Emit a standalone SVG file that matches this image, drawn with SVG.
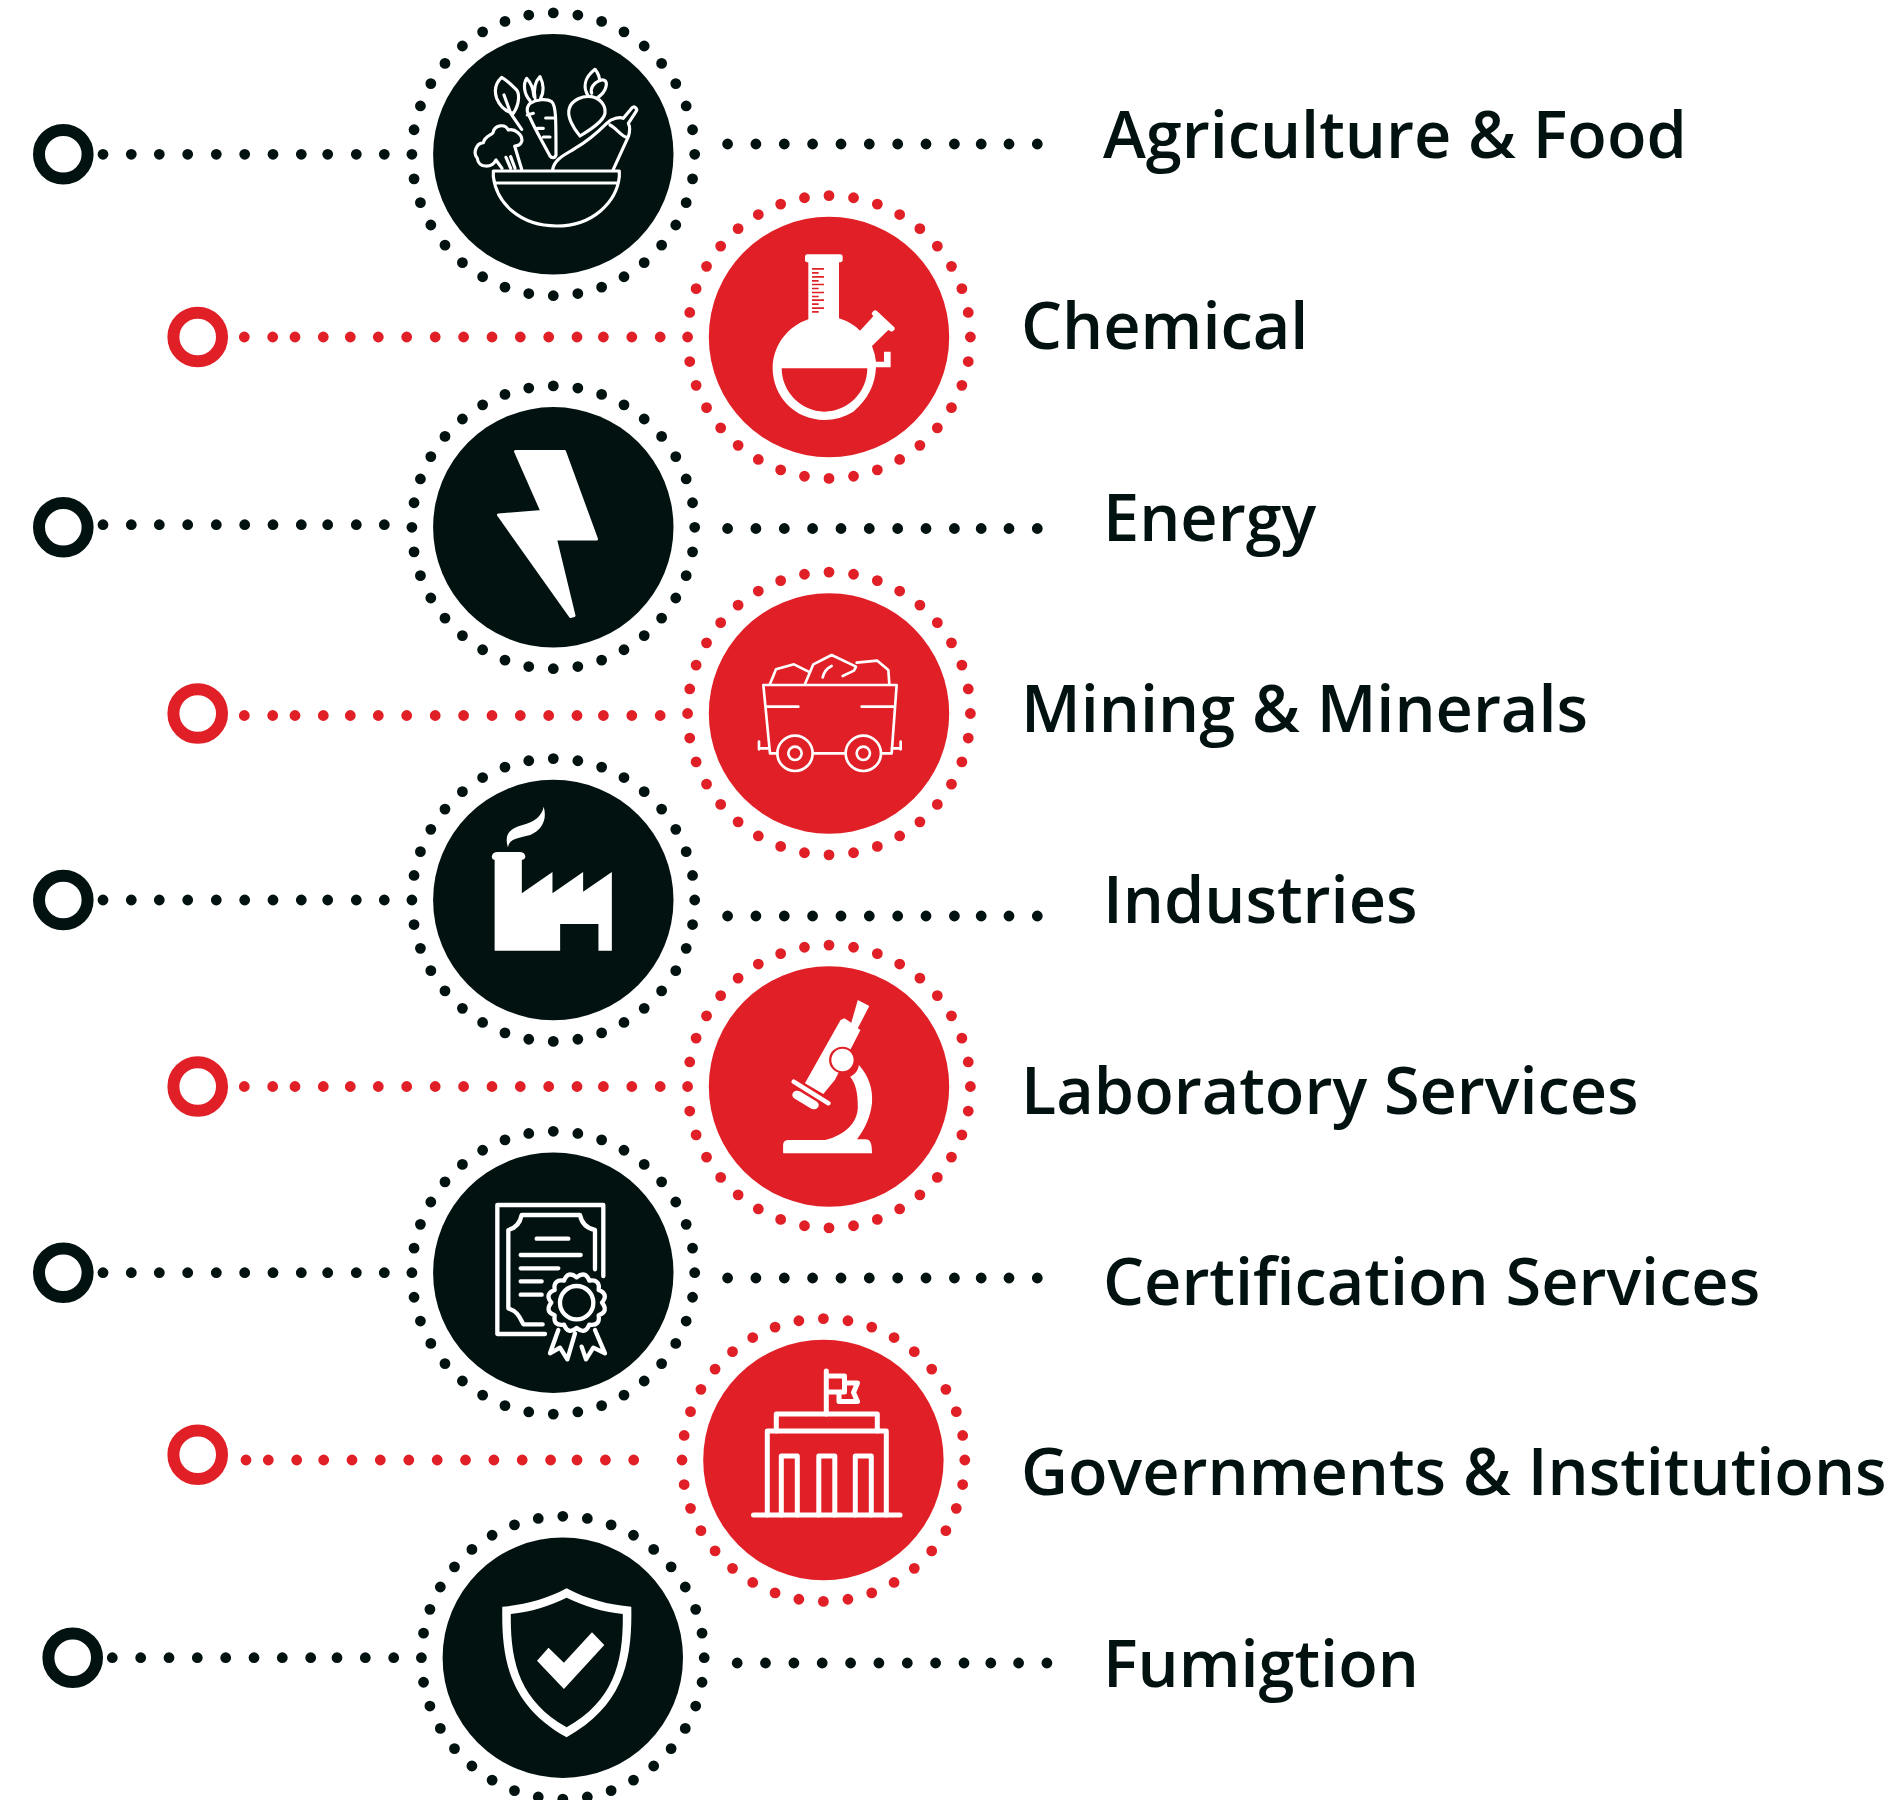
<svg xmlns="http://www.w3.org/2000/svg" width="1900" height="1800" viewBox="0 0 1900 1800">
<defs>
<style>
.k{fill:#021211}.r{fill:#e02026}
.rk,.rr{fill:none;stroke-linecap:round;stroke-width:10.8;stroke-dasharray:0 10}
.rk{stroke:#021211}.rr{stroke:#e02026}
.ek,.er{fill:none;stroke-width:12}
.ek{stroke:#021211}.er{stroke:#e02026}
.dk,.dr{fill:none;stroke-linecap:round;stroke-width:10.8}
.dk{stroke:#021211}.dr{stroke:#e02026}
.l{fill:none;stroke:#fff;stroke-linecap:round;stroke-linejoin:round}
.f{fill:#fff}
text{font-family:"Open Sans","Noto Sans",sans-serif;font-weight:600;font-size:64.8px;fill:#021211}
</style>
</defs>
<rect width="1900" height="1800" fill="#fff"/>
<g id="connectors">
<path class="dk" d="M103 154.3h0M131.3 154.3h0M159.3 154.3h0M187.7 154.3h0M216.3 154.3h0M244.7 154.3h0M273 154.3h0M301.3 154.3h0M327.7 154.3h0M356.3 154.3h0M384.3 154.3h0"/>
<path class="dk" d="M727.6 144h0M755.9 144h0M784.3 144h0M812.6 144h0M841 144h0M869.3 144h0M897.7 144h0M926 144h0M954.4 144h0M981.2 144h0M1009 144h0M1037.3 144h0"/>
<path class="dr" d="M244.3 337h0M272.7 337h0M295 337h0M323.3 337h0M350.3 337h0M378.3 337h0M406.7 337h0M435.2 337h0M463.6 337h0M492 337h0M520.3 337h0M548.7 337h0M577 337h0M603.4 337h0M631.8 337h0M660.2 337h0"/>
<path class="dk" d="M103 524.7h0M131.3 524.7h0M159.3 524.7h0M187.7 524.7h0M216.3 524.7h0M244.7 524.7h0M273 524.7h0M301.3 524.7h0M327.7 524.7h0M356.3 524.7h0M384.3 524.7h0"/>
<path class="dk" d="M727.6 528.5h0M755.9 528.5h0M784.3 528.5h0M812.6 528.5h0M841 528.5h0M869.3 528.5h0M897.7 528.5h0M926 528.5h0M954.4 528.5h0M981.2 528.5h0M1009 528.5h0M1037.3 528.5h0"/>
<path class="dr" d="M244.3 715.5h0M272.7 715.5h0M295 715.5h0M323.3 715.5h0M350.3 715.5h0M378.3 715.5h0M406.7 715.5h0M435.2 715.5h0M463.6 715.5h0M492 715.5h0M520.3 715.5h0M548.7 715.5h0M577 715.5h0M603.4 715.5h0M631.8 715.5h0M660.2 715.5h0"/>
<path class="dk" d="M103 900h0M131.3 900h0M159.3 900h0M187.7 900h0M216.3 900h0M244.7 900h0M273 900h0M301.3 900h0M327.7 900h0M356.3 900h0M384.3 900h0"/>
<path class="dk" d="M727.6 916h0M755.9 916h0M784.3 916h0M812.6 916h0M841 916h0M869.3 916h0M897.7 916h0M926 916h0M954.4 916h0M981.2 916h0M1009 916h0M1037.3 916h0"/>
<path class="dr" d="M244.3 1086.5h0M272.7 1086.5h0M295 1086.5h0M323.3 1086.5h0M350.3 1086.5h0M378.3 1086.5h0M406.7 1086.5h0M435.2 1086.5h0M463.6 1086.5h0M492 1086.5h0M520.3 1086.5h0M548.7 1086.5h0M577 1086.5h0M603.4 1086.5h0M631.8 1086.5h0M660.2 1086.5h0"/>
<path class="dk" d="M103 1272.7h0M131.3 1272.7h0M159.3 1272.7h0M187.7 1272.7h0M216.3 1272.7h0M244.7 1272.7h0M273 1272.7h0M301.3 1272.7h0M327.7 1272.7h0M356.3 1272.7h0M384.3 1272.7h0"/>
<path class="dk" d="M727.6 1278h0M755.9 1278h0M784.3 1278h0M812.6 1278h0M841 1278h0M869.3 1278h0M897.7 1278h0M926 1278h0M954.4 1278h0M981.2 1278h0M1009 1278h0M1037.3 1278h0"/>
<path class="dr" d="M246 1460h0M268.3 1460h0M296.7 1460h0M323.7 1460h0M352 1460h0M380.3 1460h0M408.8 1460h0M437.2 1460h0M465.5 1460h0M493.9 1460h0M522.2 1460h0M550.6 1460h0M577 1460h0M605.4 1460h0M633.7 1460h0"/>
<path class="dk" d="M112.3 1657.7h0M140.7 1657.7h0M169 1657.7h0M197.3 1657.7h0M225.7 1657.7h0M254 1657.7h0M282.3 1657.7h0M310.7 1657.7h0M337 1657.7h0M365.3 1657.7h0M393.7 1657.7h0"/>
<path class="dk" d="M737.2 1663h0M765.5 1663h0M793.9 1663h0M822.2 1663h0M850.6 1663h0M878.9 1663h0M907.3 1663h0M935.6 1663h0M964 1663h0M990.8 1663h0M1018.6 1663h0M1046.9 1663h0"/>
</g>

<g id="node-agriculture">
<circle class="ek" cx="63.3" cy="154.3" r="24.3"/>
<circle class="rk" cx="553.3" cy="154.3" r="141.4" pathLength="360"/>
<circle class="k" cx="553.3" cy="154.3" r="120.2"/>
<g class="l" stroke-width="9.5" transform="translate(480 60) scale(.3333)">
<path d="M66 325L48 300C35 325-5 325-8 295C-22 280-12 250 10 248C15 225 40 225 40 215C45 195 75 190 85 210C105 205 130 225 125 245C120 258 110 258 104 258L125 328M78 292L92 325M92 290L105 325"/>
<path d="M40 333H418V350C410 425 340 498 230 498C120 498 50 430 40 350ZM48 369H410"/>
<path d="M65 52C40 75 45 100 50 115C60 140 80 155 100 160C120 130 120 95 105 85C90 70 80 60 65 52ZM72 105L92 160L125 208"/>
<path d="M150 130C170 118 200 115 215 125C228 135 228 175 228 285C225 295 215 295 210 288C190 250 160 200 142 155C140 140 145 135 150 130ZM150 122C130 100 130 70 140 55C150 65 160 85 162 110M165 115C160 85 165 65 180 50C195 80 190 100 182 115M197 174H220M172 205H190M190 231H210M142 165L160 160"/>
<path d="M300 228C280 205 260 170 268 145C275 120 310 105 335 110C360 115 378 135 375 160C370 185 330 210 300 228ZM325 108C310 85 310 55 345 28C355 40 360 55 358 62C375 55 382 65 378 80C375 95 365 105 350 115M358 62C340 70 330 85 335 100"/>
<path d="M218 328C225 295 255 285 285 265C320 245 355 215 380 190C395 175 420 170 430 175L455 145C460 135 475 145 468 155L445 190C450 200 450 215 445 230L400 328M390 195C410 205 420 225 440 232"/>
</g>
<text x="1103" y="158">Agriculture &amp; Food</text>
</g>

<g id="node-chemical">
<circle class="er" cx="197.7" cy="337" r="24.3"/>
<circle class="rr" cx="829" cy="337" r="141.4" pathLength="360"/>
<circle class="r" cx="829" cy="337" r="120.2"/>
<g transform="translate(740 240) scale(.3333)">
<path class="f" d="M195 50Q195 43 202 43H301Q308 43 308 50V60Q308 67 297 67V235Q335 247 360 272L396 233L400 228L395 222Q400 208 410 212L463 262Q468 270 455 275L445 270L396 318Q405 340 408 365H432V335H452V382H408Q405 460 340 515Q300 540 253 540C165 540 98 470 98 385C98 315 145 258 205 238V67Q195 67 195 60Z"/>
<path class="r" d="M125 385H382C382 455 325 515 253 515C183 515 125 455 125 385Z"/>
<path class="r" d="M216 84h36v5h-36zM216 96h20v5h-20zM216 108h36v5h-36zM216 120h20v5h-20zM216 131h36v5h-36zM216 143h20v5h-20zM216 155h36v5h-36zM216 167h20v5h-20zM216 178h36v5h-36zM216 190h20v5h-20zM216 202h36v5h-36zM216 213h20v5h-20z"/>
</g>
<text x="1021" y="348.5">Chemical</text>
</g>

<g id="node-energy">
<circle class="ek" cx="63.3" cy="527.3" r="24.3"/>
<circle class="rk" cx="553.3" cy="527.3" r="141.4" pathLength="360"/>
<circle class="k" cx="553.3" cy="527.3" r="120.2"/>
<path class="f" stroke="#fff" stroke-width="3" stroke-linejoin="round" d="M515.5 451.5H564.5L596.5 539H555.5L574 615.5L570.5 616.5L498.5 515L542 511.5Z"/>
<text x="1103" y="540.5">Energy</text>
</g>

<g id="node-mining">
<circle class="er" cx="197.7" cy="713.5" r="24.3"/>
<circle class="rr" cx="829" cy="713.5" r="141.4" pathLength="360"/>
<circle class="r" cx="829" cy="713.5" r="120.2"/>
<g class="l" stroke-width="8" transform="translate(750 640) scale(.3333)">
<path d="M60 132L78 88L132 73L180 97M165 132L190 73L245 45L318 80L312 92L278 108M218 112C222 95 230 85 245 78M320 68L382 62L415 90L418 132"/>
<path d="M40 135H440L425 340H395M40 135L60 340H82M190 340H285M48 200H145M335 200H430M30 325H55M27 305V328M425 325H452M452 305V328"/>
<circle cx="135" cy="340" r="53"/><circle cx="340" cy="340" r="53"/><circle cx="135" cy="340" r="20"/><circle cx="340" cy="340" r="20"/>
</g>
<text x="1021" y="731.5">Mining &amp; Minerals</text>
</g>

<g id="node-industries">
<circle class="ek" cx="63.3" cy="900" r="24.3"/>
<circle class="rk" cx="553.3" cy="900" r="141.4" pathLength="360"/>
<circle class="k" cx="553.3" cy="900" r="120.2"/>
<g class="f" transform="translate(400 580) scale(.3831 .3333)">
<path d="M247 840Q238 838 240 828Q242 816 255 816H312Q325 816 327 828Q328 838 318 840V940L398 876V940L478 876V935L553 876V1112H518V1032H418V1112H247Z"/>
<path d="M282 802C270 760 290 745 320 735C350 725 370 710 375 680C385 720 370 750 340 765C310 775 285 775 282 802Z"/>
</g>
<text x="1103" y="922.5">Industries</text>
</g>

<g id="node-laboratory">
<circle class="er" cx="197.7" cy="1086.5" r="24.3"/>
<circle class="rr" cx="829" cy="1086.5" r="141.4" pathLength="360"/>
<circle class="r" cx="829" cy="1086.5" r="120.2"/>
<g transform="translate(400 1000) scale(.3831 .3333)">
<path class="f" d="M1195 0L1225 18L1195 85L1202 90L1135 240L1105 282L1057 250L1150 60L1160 55L1178 68Z"/>
<path d="M1028 245L1118 310" stroke="#fff" stroke-width="13" stroke-linecap="round" fill="none"/>
<path d="M1037 285L1080 315" stroke="#fff" stroke-width="26" stroke-linecap="round" fill="none"/>
<path class="f" d="M1198 195C1225 230 1235 270 1232 310C1228 350 1215 385 1193 418H1215C1228 418 1232 430 1232 460H1000V435C1000 425 1005 420 1015 420H1110C1160 405 1195 370 1195 320C1195 280 1190 250 1175 230C1185 225 1195 215 1198 195Z"/>
<ellipse class="f" cx="1155" cy="180" rx="32" ry="37" stroke="#e02026" stroke-width="6"/>
</g>
<text x="1021" y="1113.5">Laboratory Services</text>
</g>

<g id="node-certification">
<circle class="ek" cx="63.3" cy="1272.7" r="24.3"/>
<circle class="rk" cx="553.3" cy="1272.7" r="141.4" pathLength="360"/>
<circle class="k" cx="553.3" cy="1272.7" r="120.2"/>
<g class="l" stroke-width="13" transform="translate(480 1190) scale(.3333)">
<path d="M370 258V45H52V432H195"/>
<path d="M345 238V120C320 115 305 100 300 75H125C120 100 105 115 85 120V355C115 365 120 385 130 403H188"/>
<path d="M170 146H265M122 195H302M122 235H235M122 274H185M122 314H185"/>
<path d="M290 262Q316 241 328 272Q361 267 356 300Q387 312 366 338Q387 364 356 376Q361 409 328 404Q316 435 290 414Q264 435 252 404Q219 409 224 376Q193 364 214 338Q193 312 224 300Q219 267 252 272Q264 241 290 262Z"/>
<circle cx="290" cy="338" r="50"/>
<path d="M235 420L210 490L240 473L262 508L285 430M345 420L375 490L340 473L318 508L305 470"/>
</g>
<text x="1103" y="1304.5">Certification Services</text>
</g>

<g id="node-governments">
<circle class="er" cx="197.7" cy="1454.7" r="24.3"/>
<circle class="rr" cx="823.4" cy="1460" r="141.4" pathLength="360"/>
<circle class="r" cx="823.4" cy="1460" r="120.2"/>
<g class="l" stroke-width="5">
<path d="M753.5 1515H900"/>
<path d="M767.3 1515V1431H886.3V1515"/>
<path d="M776.3 1431V1414H877.3V1431"/>
<path d="M781.3 1515V1456H797.3V1515M818.8 1515V1456H834.8V1515M855.3 1515V1456H871.3V1515"/>
<path d="M826.3 1414V1371"/>
<path d="M829 1376H844.5V1383H857.5L853.5 1392.5L857.5 1401.5H839V1392H829M844.5 1383V1392H839"/>
</g>
<text x="1021" y="1495">Governments &amp; Institutions</text>
</g>

<g id="node-fumigation">
<circle class="ek" cx="72.7" cy="1657.7" r="24.3"/>
<circle class="rk" cx="562.8" cy="1657.7" r="141.4" pathLength="360"/>
<circle class="k" cx="562.8" cy="1657.7" r="120.2"/>
<g transform="translate(-.7 0)">
<path class="f" fill-rule="evenodd" d="M567.3 1588.3C548 1599 525 1605 503 1606.7C502 1660 510 1705 567.3 1737.3C625 1705 633 1660 632 1606.7C610 1605 587 1599 567.3 1588.3ZM567.3 1597.7C550 1606 532 1612 511.5 1614C511 1662 520 1700 567.3 1727.3C615 1700 624 1662 623.5 1614C603 1612 585 1606 567.3 1597.7Z"/>
<path class="f" d="M549.2 1647.7L564.6 1662.7L592.7 1632.3L605 1645L564.6 1689L537.7 1660.7Z"/>
</g>
<text x="1103" y="1686.5">Fumigtion</text>
</g>
</svg>
